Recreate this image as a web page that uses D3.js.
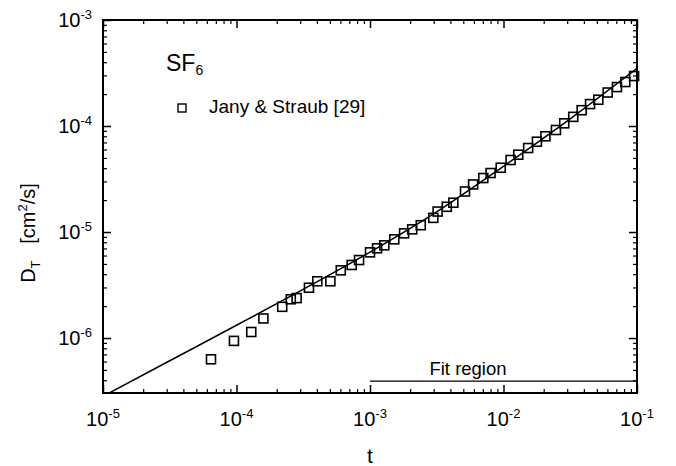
<!DOCTYPE html>
<html>
<head>
<meta charset="utf-8">
<script src="https://cdn.jsdelivr.net/npm/d3@7"></script>
<style>
  body { margin: 0; background: #fff; }
  svg { display: block; }
  text { font-family: "Liberation Sans", Arial, sans-serif; fill: #000; }
</style>
</head>
<body>
<svg id="chart"></svg>
<script>
// Jany & Straub data points (t, D_T in cm^2/s)
const tValues = [6.44e-5, 9.57e-5, 1.29e-4, 1.59e-4, 2.20e-4, 2.55e-4, 2.82e-4, 3.49e-4, 4.03e-4, 5.05e-4,
  6.04e-4, 7.29e-4, 8.28e-4, 1.00e-3, 1.13e-3, 1.28e-3, 1.52e-3, 1.80e-3, 2.07e-3, 2.40e-3,
  2.98e-3, 3.21e-3, 3.76e-3, 4.21e-3, 5.15e-3, 5.92e-3, 7.06e-3, 8.00e-3, 9.53e-3, 1.13e-2,
  1.29e-2, 1.53e-2, 1.78e-2, 2.06e-2, 2.47e-2, 2.85e-2, 3.33e-2, 3.85e-2, 4.45e-2, 5.13e-2,
  6.03e-2, 7.08e-2, 8.17e-2, 9.51e-2];
const dtValues = [6.3e-7, 9.4e-7, 1.14e-6, 1.53e-6, 1.97e-6, 2.32e-6, 2.38e-6, 2.98e-6, 3.43e-6, 3.43e-6,
  4.35e-6, 4.89e-6, 5.44e-6, 6.43e-6, 7.02e-6, 7.49e-6, 8.53e-6, 9.72e-6, 1.06e-5, 1.16e-5,
  1.36e-5, 1.56e-5, 1.73e-5, 1.89e-5, 2.41e-5, 2.81e-5, 3.23e-5, 3.60e-5, 4.04e-5, 4.78e-5,
  5.36e-5, 6.20e-5, 7.11e-5, 8.00e-5, 9.17e-5, 1.06e-4, 1.22e-4, 1.41e-4, 1.61e-4, 1.77e-4,
  2.07e-4, 2.33e-4, 2.60e-4, 2.96e-4];

// fitted curve
const fitT = [1e-5, 3.16e-5, 1e-4, 3.16e-4, 1e-3, 3.16e-3, 1e-2, 3.16e-2, 1e-1];
const fitD = [2.82e-7, 6.10e-7, 1.32e-6, 2.88e-6, 6.46e-6, 1.55e-5, 4.17e-5, 1.17e-4, 3.50e-4];

const fitRegionT = [1e-3, 1e-1];
const fitRegionD = 3.92e-7;

const xMajor = [1e-5, 1e-4, 1e-3, 1e-2, 1e-1];
const xExp = ['-5', '-4', '-3', '-2', '-1'];
const yMajor = [1e-6, 1e-5, 1e-4, 1e-3];
const yExp = ['-6', '-5', '-4', '-3'];

const width = 676, height = 466;
const margin = {top: 20, right: 39, bottom: 73, left: 103};

const svg = d3.select('#chart')
  .attr('width', width)
  .attr('height', height)
  .attr('viewBox', [0, 0, width, height]);

const x = d3.scaleLog()
  .domain([1e-5, 1e-1])
  .range([margin.left, width - margin.right]);
const y = d3.scaleLog()
  .domain([3.03e-7, 1e-3])
  .range([height - margin.bottom, margin.top]);

// minor tick positions: 2..9 in each decade
const xMinor = [];
xMajor.slice(0, -1).forEach(d => { for (let k = 2; k <= 9; k++) xMinor.push(d * k); });
const yMinor = [];
[1e-7, 1e-6, 1e-5, 1e-4].forEach(d => {
  for (let k = 2; k <= 9; k++) if (d * k >= 3.03e-7) yMinor.push(d * k);
});

const x0 = margin.left, x1 = width - margin.right;
const y0 = height - margin.bottom, y1 = margin.top;

function ticks(axis, values, size) {
  return axis.tickValues(values).tickSize(size).tickSizeOuter(0).tickFormat('');
}

// inward ticks on all four sides
const sides = [
  [() => d3.axisBottom(x), `translate(0,${y0})`, xMajor, xMinor],
  [() => d3.axisTop(x), `translate(0,${y1})`, xMajor, xMinor],
  [() => d3.axisLeft(y), `translate(${x0},0)`, yMajor, yMinor],
  [() => d3.axisRight(y), `translate(${x1},0)`, yMajor, yMinor]
];
sides.forEach(([mk, tr, major, minor]) => {
  svg.append('g').attr('transform', tr).call(ticks(mk(), major, -8))
    .call(g => g.select('.domain').remove())
    .selectAll('line').attr('stroke-width', 1.5);
  svg.append('g').attr('transform', tr).call(ticks(mk(), minor, -4))
    .call(g => g.select('.domain').remove())
    .selectAll('line').attr('stroke-width', 1.2);
});

// frame
svg.append('rect')
  .attr('x', x0).attr('y', y1)
  .attr('width', x1 - x0).attr('height', y0 - y1)
  .attr('fill', 'none')
  .attr('stroke', '#000')
  .attr('stroke-width', 2);

// tick labels
const xl = svg.append('g').selectAll('text')
  .data(xMajor)
  .join('text')
    .attr('x', d => x(d))
    .attr('y', y0 + 33)
    .attr('text-anchor', 'middle')
    .style('font-size', '20px')
    .text('10');
xl.append('tspan')
  .attr('dy', -8)
  .style('font-size', '13px')
  .text((d, i) => xExp[i]);

const yl = svg.append('g').selectAll('text')
  .data(yMajor)
  .join('text')
    .attr('x', x0 - 11)
    .attr('y', d => y(d) + 7)
    .attr('text-anchor', 'end')
    .style('font-size', '20px')
    .text('10');
yl.append('tspan')
  .attr('dy', -8)
  .style('font-size', '13px')
  .text((d, i) => yExp[i]);

// clip for plot content
svg.append('clipPath').attr('id', 'clip')
  .append('rect')
    .attr('x', x0).attr('y', y1)
    .attr('width', x1 - x0).attr('height', y0 - y1);

// fit line
const line = d3.line()
  .x(d => x(d[0]))
  .y(d => y(d[1]))
  .curve(d3.curveMonotoneX);
svg.append('path')
  .datum(fitT.map((t, i) => [t, fitD[i]]))
  .attr('clip-path', 'url(#clip)')
  .attr('d', line)
  .attr('fill', 'none')
  .attr('stroke', '#000')
  .attr('stroke-width', 1.5);

// data squares
const sq = 9;
svg.append('g')
  .selectAll('rect')
  .data(tValues.map((t, i) => [t, dtValues[i]]))
  .join('rect')
    .attr('x', d => x(d[0]) - sq / 2)
    .attr('y', d => y(d[1]) - sq / 2)
    .attr('width', sq)
    .attr('height', sq)
    .attr('fill', 'none')
    .attr('stroke', '#000')
    .attr('stroke-width', 1.6);

// fit region marker
svg.append('line')
  .attr('x1', x(fitRegionT[0])).attr('x2', x(fitRegionT[1]))
  .attr('y1', y(fitRegionD)).attr('y2', y(fitRegionD))
  .attr('stroke', '#000')
  .attr('stroke-width', 1.3);
svg.append('text')
  .attr('x', 468)
  .attr('y', y(fitRegionD) - 6)
  .attr('text-anchor', 'middle')
  .style('font-size', '18.5px')
  .text('Fit region');

// SF6 label and legend
const sf = svg.append('text')
  .attr('x', 166).attr('y', 71)
  .style('font-size', '23px')
  .text('SF');
sf.append('tspan').attr('dy', 4).style('font-size', '14px').text('6');

svg.append('rect')
  .attr('x', 178).attr('y', 104)
  .attr('width', 8).attr('height', 8)
  .attr('fill', 'none')
  .attr('stroke', '#000')
  .attr('stroke-width', 1.4);
svg.append('text')
  .attr('x', 209).attr('y', 113)
  .style('font-size', '19px')
  .text('Jany & Straub [29]');

// axis titles
svg.append('text')
  .attr('x', (x0 + x1) / 2)
  .attr('y', 463)
  .attr('text-anchor', 'middle')
  .style('font-size', '21px')
  .text('t');

const yt = svg.append('text')
  .attr('transform', 'translate(35,233) rotate(-90)')
  .attr('text-anchor', 'middle')
  .style('font-size', '20px')
  .text('D');
yt.append('tspan').attr('dy', 5).style('font-size', '13px').text('T');
yt.append('tspan').attr('dy', -5).text('\u00a0\u00a0\u00a0[cm');
yt.append('tspan').attr('dy', -8).style('font-size', '13px').text('2');
yt.append('tspan').attr('dy', 8).text('/s]');
</script>
</body>
</html>
